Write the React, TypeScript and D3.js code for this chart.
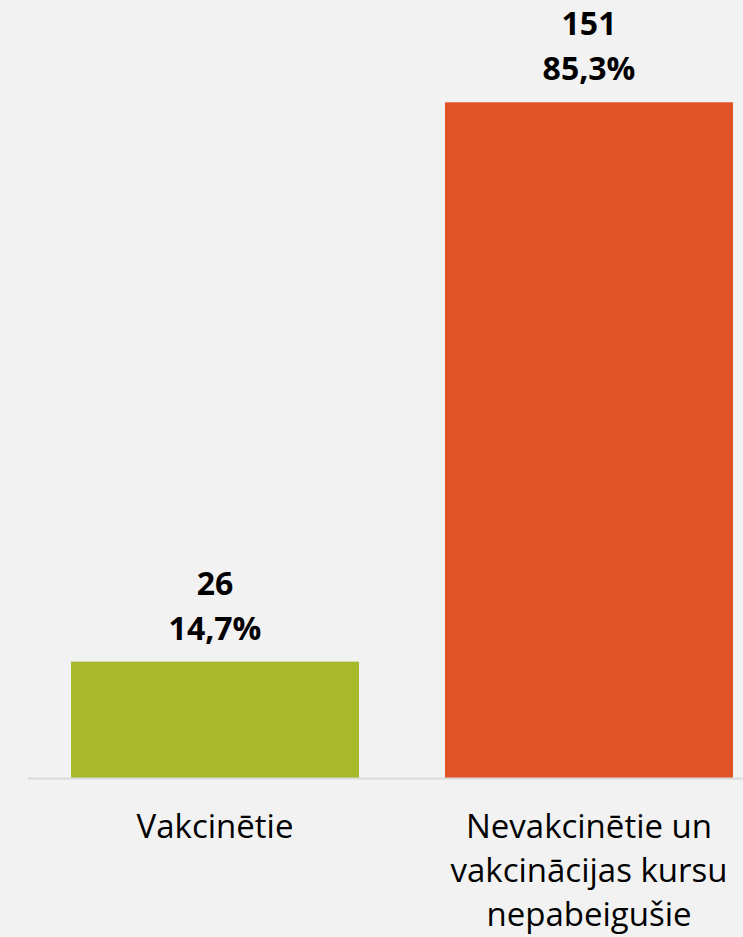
import React from "react";
import * as d3 from "d3";

const categories = ["Vakcinētie", "Nevakcinētie un vakcinācijas kursu nepabeigušie"];
const labelLines = [["Vakcinētie"], ["Nevakcinētie un", "vakcinācijas kursu", "nepabeigušie"]];
const counts = [26, 151];
const percents = ["14,7%", "85,3%"];
const colors = ["#a7b82a", "#e05327"];

export default function App() {
  const W = 743, H = 937;
  const x = d3.scaleBand<string>().domain(categories).range([28, 776]).paddingInner(0.23).paddingOuter(0.115);
  const y = d3.scaleLinear().domain([0, 160]).range([778, 62]);
  const font = "'Open Sans', sans-serif";
  return (
    <svg width={W} height={H} style={{ position: "absolute", left: 0, top: 0, background: "#f2f2f2" }}>
      <rect x={0} y={0} width={W} height={H} fill="#f2f2f2" />
      {categories.map((c, i) => {
        const bx = x(c)!;
        const cx = bx + x.bandwidth() / 2;
        const top = y(counts[i]);
        return (
          <g key={c}>
            <rect x={bx} y={top} width={x.bandwidth()} height={y(0) - top} fill={colors[i]} />
            <text x={cx} y={top - 67} textAnchor="middle" fontFamily={font} fontWeight="bold" fontSize={32} fill="#000">{counts[i]}</text>
            <text x={cx} y={top - 22} textAnchor="middle" fontFamily={font} fontWeight="bold" fontSize={32} fill="#000">{percents[i]}</text>
            {labelLines[i].map((l, j) => (
              <text key={j} x={cx} y={838 + j * 44} textAnchor="middle" fontFamily={font} fontSize={33} fill="#000">{l}</text>
            ))}
          </g>
        );
      })}
      <line x1={28} x2={W} y1={y(0) + 0.5} y2={y(0) + 0.5} stroke="#d9d9d9" strokeWidth={2} />
    </svg>
  );
}
